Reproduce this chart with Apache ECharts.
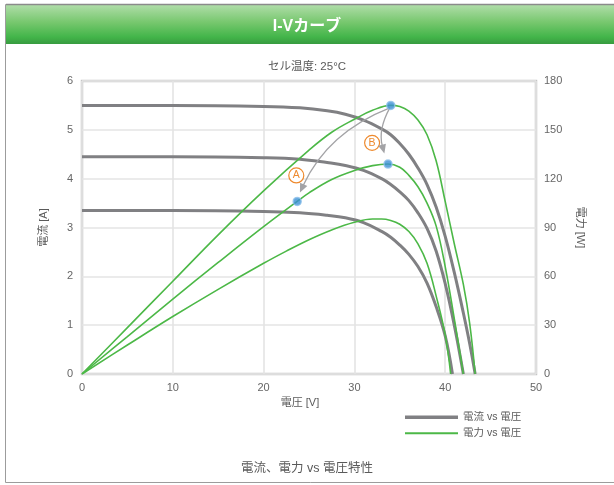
<!DOCTYPE html>
<html>
<head>
<meta charset="utf-8">
<script src="https://cdn.jsdelivr.net/npm/echarts@6/dist/echarts.min.js"></script>
<style>
  html, body { margin: 0; padding: 0; background: #ffffff; }
  #chart { width: 614px; height: 485px; }
</style>
</head>
<body>
<div id="chart"></div>
<script>
// I-V characteristics of a PV module at three irradiance levels (cell temp 25 °C)

// current vs voltage, high / mid / low irradiance
const voltsI1 = [0, 10, 20, 24, 27, 29, 31, 33, 34, 35, 36, 37, 38, 39, 40, 41, 42, 42.7, 43.3];
const amps1   = [5.50, 5.50, 5.48, 5.45, 5.39, 5.32, 5.20, 5.02, 4.90, 4.72, 4.50, 4.22, 3.88, 3.42, 2.82, 2.08, 1.25, 0.62, 0];
const voltsI2 = [0, 10, 20, 24, 27, 29, 31, 33, 34, 35, 36, 37, 38, 39, 40, 41, 42];
const amps2   = [4.45, 4.45, 4.43, 4.40, 4.33, 4.27, 4.17, 4.00, 3.88, 3.73, 3.55, 3.30, 2.98, 2.52, 1.85, 1.00, 0];
const voltsI3 = [0, 10, 20, 24, 27, 29, 31, 33, 34, 35, 36, 37, 38, 39, 40, 40.8];
const amps3   = [3.35, 3.35, 3.33, 3.30, 3.25, 3.20, 3.10, 2.92, 2.80, 2.64, 2.45, 2.20, 1.86, 1.38, 0.78, 0];

// power vs voltage for the same three levels
const voltsP1 = [0, 5, 10, 15, 20, 25, 27.5, 30, 32, 34, 35, 36, 37, 38, 39, 40, 41, 42, 42.7, 43.3];
const watts1  = [0, 28.5, 57, 85.5, 112.5, 137.5, 148.5, 156.5, 162, 165, 164.3, 161.5, 156, 147, 131, 106, 80, 55, 31, 0];
const voltsP2 = [0, 5, 10, 15, 20, 23.7, 25, 27.5, 30, 32, 33.7, 35, 36, 37, 38, 39, 40, 41, 42];
const watts2  = [0, 23, 46, 68.5, 90.5, 106, 111.3, 119.5, 125, 128, 129, 127, 122, 115, 105, 91, 66, 34, 0];
const voltsP3 = [0, 5, 10, 15, 20, 22.5, 25, 27.5, 30, 32, 33, 34, 35, 36, 37, 38, 39, 40, 40.6];
const watts3  = [0, 17.8, 35.3, 52, 68, 75.5, 82.5, 88.5, 93.2, 95.2, 95.2, 94.3, 92, 87.5, 80, 68, 48, 24, 0];

// highlighted operating points: MPP (high), MPP (mid), point A
const markerVolts = [34.0, 33.7, 23.7];
const markerWatts = [165, 129, 106];

const xTicks = [0, 10, 20, 30, 40, 50];
const ampTicks = [0, 1, 2, 3, 4, 5, 6];
const wattTicks = [0, 30, 60, 90, 120, 150, 180];

const NAME_I = '電流 vs 電圧';
const NAME_P = '電力 vs 電圧';
const GRAY = '#808083';
const GREEN = '#4cb847';
const ORANGE = '#ee8a2e';
const TXT = '#5a5a5a';
const FONT = "'Liberation Sans', 'Noto Sans CJK JP', sans-serif";

const pairs = (xs, ys) => xs.map((x, i) => [x, ys[i]]);

function currentSeries(xs, ys) {
  return {
    name: NAME_I, type: 'line', xAxisIndex: 0, yAxisIndex: 0,
    data: pairs(xs, ys), showSymbol: false, symbol: 'none',
    smooth: 0.4,
    lineStyle: { color: GRAY, width: 3 }, itemStyle: { color: GRAY },
    z: 3, silent: true
  };
}
function powerSeries(xs, ys) {
  return {
    name: NAME_P, type: 'line', xAxisIndex: 0, yAxisIndex: 1,
    data: pairs(xs, ys), showSymbol: false, symbol: 'none',
    smooth: 0.4,
    lineStyle: { color: GREEN, width: 1.6 }, itemStyle: { color: GREEN },
    z: 4, silent: true
  };
}

// curved arrows: from the top MPP towards point A and towards the mid MPP
// each row: start V, start W, end V, end W, bend
const arrowRows = [
  [markerVolts[0] - 0.1, markerWatts[0] - 1.5, markerVolts[2] + 0.3, markerWatts[2] + 5.5, 0.2],
  [markerVolts[0] - 0.1, markerWatts[0] - 1.5, markerVolts[1] - 0.4, markerWatts[1] + 6.5, 0.2]
];

function renderArrow(params, api) {
  const p1 = api.coord([api.value(0), api.value(1)]);
  const p2 = api.coord([api.value(2), api.value(3)]);
  const c = api.value(4);
  const mx = (p1[0] + p2[0]) / 2, my = (p1[1] + p2[1]) / 2;
  const dx = p2[0] - p1[0], dy = p2[1] - p1[1];
  // control point pushed to the right-hand normal of the travel direction,
  // which for these downward-left arrows puts the bow up and to the left
  const cp = [mx - dy * c, my + dx * c];
  let tx = p2[0] - cp[0], ty = p2[1] - cp[1];
  const len = Math.sqrt(tx * tx + ty * ty) || 1;
  tx /= len; ty /= len;
  const L = 9, W = 4;
  const base = [p2[0] - tx * L, p2[1] - ty * L];
  const head = [p2, [base[0] - ty * W, base[1] + tx * W], [base[0] + ty * W, base[1] - tx * W]];
  const lineEnd = [p2[0] - tx * (L - 1), p2[1] - ty * (L - 1)];
  return {
    type: 'group',
    children: [
      { type: 'bezierCurve',
        shape: { x1: p1[0], y1: p1[1], x2: lineEnd[0], y2: lineEnd[1], cpx1: cp[0], cpy1: cp[1] },
        style: { stroke: '#a3a3a6', lineWidth: 1.3, fill: null } },
      { type: 'polygon', shape: { points: head }, style: { fill: '#a3a3a6' } }
    ]
  };
}

const circled = (letter, coord) => ({
  coord: coord,
  symbol: 'circle', symbolSize: 15,
  itemStyle: { color: '#ffffff', borderColor: ORANGE, borderWidth: 1.2 },
  label: { show: true, position: 'inside', formatter: letter, color: ORANGE, fontSize: 10.5, fontFamily: FONT }
});

const legendBase = {
  orient: 'vertical', left: 400, icon: 'rect', itemWidth: 53,
  textStyle: { color: TXT, fontSize: 10.5, fontFamily: FONT },
  selectedMode: false
};

const option = {
  animation: false,
  textStyle: { fontFamily: FONT },
  graphic: [
    { type: 'rect', shape: { x: 5.5, y: 4.5, width: 640, height: 478 }, style: { fill: '#ffffff', stroke: '#9c9c9c', lineWidth: 1 }, z: -10 },
    { type: 'rect', shape: { x: 6, y: 5, width: 640, height: 39 },
      style: { fill: new echarts.graphic.LinearGradient(0, 0, 0, 1, [
        { offset: 0, color: '#afdda8' },
        { offset: 0.45, color: '#76c76d' },
        { offset: 0.82, color: '#43b54a' },
        { offset: 1, color: '#379b3f' }
      ]) }, z: -9 },
    { type: 'line', shape: { x1: 6, y1: 4.5, x2: 614, y2: 4.5 }, style: { stroke: '#8a8a8a', lineWidth: 1.5 }, z: -8 }
  ],
  title: [
    { text: 'I-Vカーブ', left: 'center', top: 14, textStyle: { color: '#ffffff', fontSize: 16, fontWeight: 'bold', fontFamily: FONT } },
    { text: 'セル温度: 25°C', left: 'center', top: 56, textStyle: { color: TXT, fontSize: 11.5, fontWeight: 'normal', fontFamily: FONT } },
    { text: '電流、電力 vs 電圧特性', left: 'center', top: 457, textStyle: { color: TXT, fontSize: 12.5, fontWeight: 'normal', fontFamily: FONT } }
  ],
  legend: [
    Object.assign({ data: [NAME_I], top: 407, itemHeight: 3.5 }, legendBase),
    Object.assign({ data: [NAME_P], top: 423, itemHeight: 2 }, legendBase)
  ],
  grid: {
    left: 82, right: 78, top: 81, bottom: 111,
    show: true, borderColor: '#c6c6c6', borderWidth: 2.5, backgroundColor: 'transparent'
  },
  xAxis: {
    type: 'value', min: xTicks[0], max: xTicks[xTicks.length - 1], interval: 10,
    name: '電圧 [V]', nameLocation: 'middle', nameGap: 23,
    nameTextStyle: { color: TXT, fontSize: 11, padding: [0, 18, 0, 0] },
    axisLine: { show: false }, axisTick: { show: false },
    axisLabel: { color: '#666', fontSize: 11, margin: 8 },
    splitLine: { lineStyle: { color: '#e4e4e4', width: 1.6 } }
  },
  yAxis: [
    {
      type: 'value', min: ampTicks[0], max: ampTicks[ampTicks.length - 1], interval: 1,
      name: '電流 [A]', nameLocation: 'middle', nameGap: 33,
      nameTextStyle: { color: TXT, fontSize: 11 },
      axisLine: { show: false }, axisTick: { show: false },
      axisLabel: { color: '#666', fontSize: 11, margin: 9 },
      splitLine: { lineStyle: { color: '#e4e4e4', width: 1.6 } }
    },
    {
      type: 'value', min: wattTicks[0], max: wattTicks[wattTicks.length - 1], interval: 30,
      name: '電力 [W]', nameLocation: 'middle', nameGap: 39, nameRotate: 270,
      nameTextStyle: { color: TXT, fontSize: 11 },
      axisLine: { show: false }, axisTick: { show: false },
      axisLabel: { color: '#666', fontSize: 11, margin: 8 },
      splitLine: { show: false }
    }
  ],
  series: [
    currentSeries(voltsI1, amps1),
    currentSeries(voltsI2, amps2),
    currentSeries(voltsI3, amps3),
    Object.assign(powerSeries(voltsP1, watts1), {
      markPoint: {
        silent: true,
        data: [ circled('A', [23.6, 122]), circled('B', [31.95, 142]) ]
      }
    }),
    powerSeries(voltsP2, watts2),
    powerSeries(voltsP3, watts3),
    {
      name: 'arrows', type: 'custom', xAxisIndex: 0, yAxisIndex: 1,
      data: arrowRows, renderItem: renderArrow, silent: true, z: 5,
      encode: { x: [0, 2], y: [1, 3] }
    },
    {
      name: 'points', type: 'scatter', xAxisIndex: 0, yAxisIndex: 1,
      data: pairs(markerVolts, markerWatts),
      symbol: 'circle', symbolSize: 8,
      itemStyle: { color: '#3a8fd4', borderColor: '#8dc1ea', borderWidth: 1.5 },
      z: 6, silent: true
    }
  ]
};

const chart = echarts.init(document.getElementById('chart'), null, { renderer: 'canvas' });
chart.setOption(option);
</script>
</body>
</html>
